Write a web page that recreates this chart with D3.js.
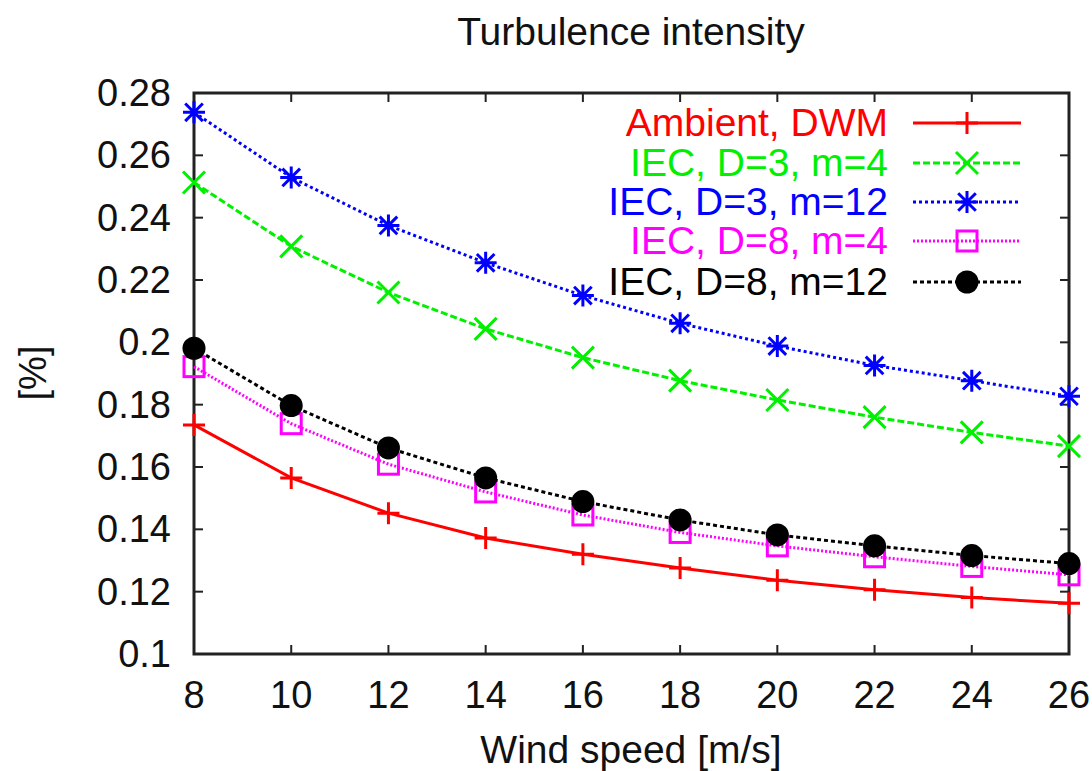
<!DOCTYPE html>
<html><head><meta charset="utf-8">
<script src="https://cdn.jsdelivr.net/npm/d3@7"></script>
<style>body{margin:0;background:#fff}svg{display:block}text{font-family:"Liberation Sans",Arial,sans-serif}</style>
</head><body><svg id="c" width="1092" height="771"></svg>
<script>
const windSpeed = [8,10,12,14,16,18,20,22,24,26];
const ambientDWM = [0.1735,0.1565,0.1452,0.1372,0.1320,0.1276,0.1237,0.1206,0.1181,0.1163];
const iecD3m4 = [0.2513,0.2308,0.2160,0.2043,0.1951,0.1877,0.1815,0.1760,0.1711,0.1667];
const iecD3m12 = [0.2738,0.2529,0.2375,0.2255,0.2150,0.2061,0.1988,0.1926,0.1877,0.1827];
const iecD8m4 = [0.1922,0.1739,0.1609,0.1520,0.1446,0.1390,0.1347,0.1312,0.1281,0.1254];
const iecD8m12 = [0.1981,0.1797,0.1661,0.1565,0.1489,0.1430,0.1382,0.1347,0.1316,0.1290];
const seriesNames = ["Ambient, DWM","IEC, D=3, m=4","IEC, D=3, m=12","IEC, D=8, m=4","IEC, D=8, m=12"];
const xTicks = [8,10,12,14,16,18,20,22,24,26];
const yTicks = [0.1,0.12,0.14,0.16,0.18,0.2,0.22,0.24,0.26,0.28];
const titleText = "Turbulence intensity";
const xLabel = "Wind speed [m/s]";
const yLabel = "[%]";

const styles = [
  {color:"#ff0000", dash:null, marker:"plus"},
  {color:"#00f000", dash:"7,3", marker:"cross"},
  {color:"#0000ff", dash:"3,3", marker:"star"},
  {color:"#ff00ff", dash:"2,2", marker:"square"},
  {color:"#000000", dash:"4,3", marker:"dot"}
];
const data = [ambientDWM, iecD3m4, iecD3m12, iecD8m4, iecD8m12];

const L=194, R=1069, T=93, B=654;
const FS = 38, FS2 = 39;
const svg = d3.select("#c");
const x = d3.scaleLinear().domain([8,26]).range([L,R]);
const y = d3.scaleLinear().domain([0.1,0.28]).range([B,T]);

function drawMarker(g, type, cx, cy, color){
  const s = 11;
  if(type==="plus"){
    g.append("path").attr("d",`M${cx-s},${cy}H${cx+s}M${cx},${cy-s}V${cy+s}`).attr("stroke",color).attr("stroke-width",3).attr("fill","none");
  } else if(type==="cross"){
    g.append("path").attr("d",`M${cx-s},${cy-s}L${cx+s},${cy+s}M${cx-s},${cy+s}L${cx+s},${cy-s}`).attr("stroke",color).attr("stroke-width",3).attr("fill","none");
  } else if(type==="star"){
    g.append("path").attr("d",`M${cx-s},${cy}H${cx+s}M${cx},${cy-s}V${cy+s}M${cx-s*0.8},${cy-s*0.8}L${cx+s*0.8},${cy+s*0.8}M${cx-s*0.8},${cy+s*0.8}L${cx+s*0.8},${cy-s*0.8}`).attr("stroke",color).attr("stroke-width",3).attr("fill","none");
  } else if(type==="square"){
    g.append("rect").attr("x",cx-s+1).attr("y",cy-s+1).attr("width",2*s-2).attr("height",2*s-2).attr("stroke",color).attr("stroke-width",3).attr("fill","none");
  } else if(type==="dot"){
    g.append("circle").attr("cx",cx).attr("cy",cy).attr("r",11.5).attr("fill",color);
  }
}

const ax = svg.append("g");
ax.append("rect").attr("x",L).attr("y",T).attr("width",R-L).attr("height",B-T).attr("fill","none").attr("stroke","#222").attr("stroke-width",3);
xTicks.forEach(t=>{
  ax.append("line").attr("x1",x(t)).attr("x2",x(t)).attr("y1",B).attr("y2",B-9).attr("stroke","#222").attr("stroke-width",2);
  ax.append("line").attr("x1",x(t)).attr("x2",x(t)).attr("y1",T).attr("y2",T+9).attr("stroke","#222").attr("stroke-width",2);
  ax.append("text").attr("x",x(t)).attr("y",708).attr("text-anchor","middle").attr("font-size",FS).attr("fill","#111").text(t);
});
yTicks.forEach(t=>{
  ax.append("line").attr("x1",L).attr("x2",L+9).attr("y1",y(t)).attr("y2",y(t)).attr("stroke","#222").attr("stroke-width",2);
  ax.append("line").attr("x1",R).attr("x2",R-9).attr("y1",y(t)).attr("y2",y(t)).attr("stroke","#222").attr("stroke-width",2);
  ax.append("text").attr("x",171).attr("y",y(t)+13).attr("text-anchor","end").attr("font-size",FS).attr("fill","#111").text(d3.format("")(+t.toFixed(2)));
});

svg.append("text").attr("x",631).attr("y",45).attr("text-anchor","middle").attr("font-size",FS2).attr("fill","#111").text(titleText);
svg.append("text").attr("x",631).attr("y",763).attr("text-anchor","middle").attr("font-size",FS2).attr("fill","#111").text(xLabel);
svg.append("text").attr("transform","translate(46,373) rotate(-90)").attr("text-anchor","middle").attr("font-size",FS).attr("fill","#111").text(yLabel);

const line = d3.line().x((d,i)=>x(windSpeed[i])).y(d=>y(d));
data.forEach((vals,k)=>{
  const st = styles[k];
  const g = svg.append("g");
  g.append("path").datum(vals).attr("d",line).attr("fill","none").attr("stroke",st.color).attr("stroke-width",3).attr("stroke-dasharray",st.dash);
  vals.forEach((v,i)=>drawMarker(g, st.marker, x(windSpeed[i]), y(v), st.color));
});

const legY = [123,163,202,241,282];
seriesNames.forEach((n,k)=>{
  const st = styles[k];
  const g = svg.append("g");
  g.append("text").attr("x",888).attr("y",legY[k]+13).attr("text-anchor","end").attr("font-size",FS2).attr("fill",st.color).text(n);
  g.append("line").attr("x1",913).attr("x2",1021).attr("y1",legY[k]).attr("y2",legY[k]).attr("stroke",st.color).attr("stroke-width",3).attr("stroke-dasharray",st.dash);
  drawMarker(g, st.marker, 967, legY[k], st.color);
});
</script></body></html>
